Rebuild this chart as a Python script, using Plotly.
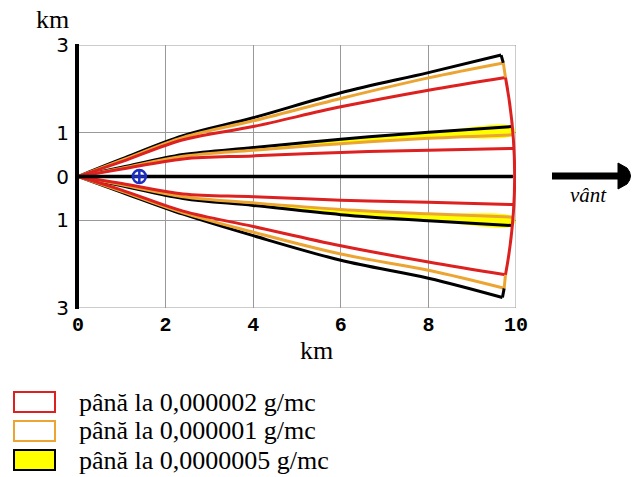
import plotly.graph_objects as go

# ---------------- data (km) ----------------
# upper half, outer edges
uo_black_x = [0, 1, 2.4, 4, 6, 8, 9.66]
uo_black_y = [0, 0.40, 0.93, 1.34, 1.91, 2.37, 2.77]
uo_orange_x = [0, 1, 2.4, 4, 6, 8, 9.71]
uo_orange_y = [0, 0.37, 0.89, 1.27, 1.78, 2.25, 2.59]
uo_red_x = [0, 1, 2.4, 4, 6, 8, 9.76]
uo_red_y = [0, 0.34, 0.84, 1.14, 1.59, 1.97, 2.26]
# upper half, inner edges
ui_black_x = [0, 1, 2.4, 4, 6, 8, 9.93]
ui_black_y = [0, 0.21, 0.50, 0.66, 0.85, 1.01, 1.14]
ui_orange_x = [0, 1, 2.4, 4, 6, 8, 9.95]
ui_orange_y = [0, 0.19, 0.46, 0.60, 0.75, 0.87, 0.95]
ui_red_x = [0, 1, 2.4, 4, 6, 8, 9.97]
ui_red_y = [0, 0.17, 0.40, 0.47, 0.55, 0.60, 0.64]
# lower half, outer edges
lo_black_x = [0, 1, 2.4, 4, 6, 8, 9.69]
lo_black_y = [0, -0.36, -0.86, -1.35, -1.91, -2.32, -2.76]
lo_orange_x = [0, 1, 2.4, 4, 6, 8, 9.73]
lo_orange_y = [0, -0.34, -0.83, -1.27, -1.77, -2.14, -2.55]
lo_red_x = [0, 1, 2.4, 4, 6, 8, 9.76]
lo_red_y = [0, -0.31, -0.79, -1.14, -1.58, -1.95, -2.24]
# lower half, inner edges
li_black_x = [0, 1, 2.4, 4, 6, 8, 9.93]
li_black_y = [0, -0.21, -0.50, -0.66, -0.87, -1.01, -1.12]
li_orange_x = [0, 1, 2.4, 4, 6, 8, 9.95]
li_orange_y = [0, -0.19, -0.46, -0.60, -0.75, -0.85, -0.93]
li_red_x = [0, 1, 2.4, 4, 6, 8, 9.97]
li_red_y = [0, -0.16, -0.40, -0.46, -0.54, -0.59, -0.64]
# short closing edges at the far end (black -> orange, orange -> red)
end_black_up_x = [9.66, 9.71]
end_black_up_y = [2.77, 2.59]
end_orange_up_x = [9.71, 9.76]
end_orange_up_y = [2.59, 2.26]
end_black_lo_x = [9.69, 9.73]
end_black_lo_y = [-2.76, -2.55]
end_orange_lo_x = [9.73, 9.76]
end_orange_lo_y = [-2.55, -2.24]
# axis of the plume and source
axis_x = [0, 9.93]
axis_y = [0, 0]
source_x = [1.4]
source_y = [0]
# red closing arc: start, control, end
arc_pts = [(9.76, 2.26), (10.18, 0.01), (9.76, -2.24)]

x_ticks = [0, 2, 4, 6, 8, 10]
y_ticks = [-3, -1, 0, 1, 3]
y_ticktext = ["3", "1", "0", "1", "3"]
legend_labels = ["până la 0,000002 g/mc", "până la 0,000001 g/mc", "până la 0,0000005 g/mc"]

RED = "#dd2020"
ORANGE = "#eca532"
YELLOW = "#ffff00"
BLACK = "#000000"
BLUE = "#1c2fc0"

W, H = 632, 477
L, R, T, B = 78, 516, 45, 308


def px(xp):
    return (xp - L) / (R - L)


def py(yp):
    return (B - yp) / (B - T)


fig = go.Figure()

# yellow bands between the black and orange inner edges
for bx, by, ox, oy in [(ui_black_x, ui_black_y, ui_orange_x, ui_orange_y),
                       (li_black_x, li_black_y, li_orange_x, li_orange_y)]:
    fig.add_trace(go.Scatter(x=bx + ox[::-1], y=by + oy[::-1], fill="toself",
                             fillcolor=YELLOW, line=dict(width=0, shape="spline",
                                                         smoothing=1.0),
                             mode="lines", hoverinfo="skip", showlegend=False))

curves = [
    (uo_black_x, uo_black_y, BLACK), (ui_black_x, ui_black_y, BLACK),
    (lo_black_x, lo_black_y, BLACK), (li_black_x, li_black_y, BLACK),
    (uo_orange_x, uo_orange_y, ORANGE), (ui_orange_x, ui_orange_y, ORANGE),
    (lo_orange_x, lo_orange_y, ORANGE), (li_orange_x, li_orange_y, ORANGE),
    (uo_red_x, uo_red_y, RED), (ui_red_x, ui_red_y, RED),
    (lo_red_x, lo_red_y, RED), (li_red_x, li_red_y, RED),
]
for xs, ys, col in curves:
    fig.add_trace(go.Scatter(x=xs, y=ys, mode="lines",
                             line=dict(color=col, width=3, shape="spline",
                                       smoothing=1.0),
                             showlegend=False))
for xs, ys, col in [(end_black_up_x, end_black_up_y, BLACK),
                    (end_black_lo_x, end_black_lo_y, BLACK),
                    (end_orange_up_x, end_orange_up_y, ORANGE),
                    (end_orange_lo_x, end_orange_lo_y, ORANGE)]:
    fig.add_trace(go.Scatter(x=xs, y=ys, mode="lines",
                             line=dict(color=col, width=3), showlegend=False))

fig.add_trace(go.Scatter(x=axis_x, y=axis_y, mode="lines",
                         line=dict(color=BLACK, width=3.5), showlegend=False))
fig.add_trace(go.Scatter(x=source_x, y=source_y, mode="markers",
                         marker=dict(symbol="circle-cross-open", size=13,
                                     color=BLUE, line=dict(color=BLUE, width=2.5)),
                         showlegend=False))

shapes = []
# plot frame (gray)
shapes.append(dict(type="rect", xref="x", yref="y", x0=0, x1=10, y0=-3, y1=3,
                   line=dict(color="#999999", width=1), layer="below"))
# red arc
(p0, c, p1) = arc_pts
shapes.append(dict(type="path", xref="x", yref="y",
                   path=f"M {p0[0]},{p0[1]} Q {c[0]},{c[1]} {p1[0]},{p1[1]}",
                   line=dict(color=RED, width=3)))
# thick black y-axis
shapes.append(dict(type="line", xref="paper", yref="paper", x0=px(77), x1=px(77),
                   y0=py(T - 1), y1=py(B + 1), line=dict(color=BLACK, width=4)))
# wind arrow
shapes.append(dict(type="line", xref="paper", yref="paper", x0=px(552), x1=px(622),
                   y0=py(176), y1=py(176), line=dict(color=BLACK, width=7)))
shapes.append(dict(type="path", xref="paper", yref="paper",
                   path=(f"M {px(618)},{py(163)} L {px(627)},{py(168)} "
                         f"Q {px(634)},{py(176)} {px(627)},{py(184)} "
                         f"L {px(618)},{py(189)} Z"),
                   fillcolor=BLACK, line=dict(color=BLACK, width=1)))
# legend boxes
box_tops = [392, 421, 450]
box_fill = ["white", "white", YELLOW]
box_line = [RED, ORANGE, BLACK]
for top, fc, lc in zip(box_tops, box_fill, box_line):
    shapes.append(dict(type="rect", xref="paper", yref="paper",
                       x0=px(14), x1=px(55), y0=py(top), y1=py(top + 20),
                       fillcolor=fc, line=dict(color=lc, width=2)))

annotations = [
    dict(text="km", x=px(52), y=py(19), xref="paper", yref="paper", showarrow=False,
         font=dict(family="Liberation Serif", size=26, color="black"),
         xanchor="center", yanchor="middle"),
    dict(text="km", x=px(316), y=py(350), xref="paper", yref="paper", showarrow=False,
         font=dict(family="Liberation Serif", size=26, color="black"),
         xanchor="center", yanchor="middle"),
    dict(text="<i>vânt</i>", x=px(588), y=py(195), xref="paper", yref="paper",
         showarrow=False, font=dict(family="Liberation Serif", size=21, color="black"),
         xanchor="center", yanchor="middle"),
]
for top, lab in zip(box_tops, legend_labels):
    annotations.append(dict(text=lab, x=px(77), y=py(top + 10), xref="paper",
                            yref="paper", showarrow=False, xanchor="left",
                            yanchor="middle",
                            font=dict(family="Liberation Serif", size=26,
                                      color="black")))

fig.update_layout(
    width=W, height=H,
    margin=dict(l=L, r=W - R, t=T, b=H - B, pad=0),
    paper_bgcolor="white", plot_bgcolor="white",
    shapes=shapes, annotations=annotations,
    xaxis=dict(range=[0, 10], tickvals=x_ticks,
               ticktext=[f"<b>{v}</b>" for v in x_ticks],
               showgrid=True, gridcolor="#999999", gridwidth=1, zeroline=False,
               showline=False, ticks="", fixedrange=True,
               tickfont=dict(family="Liberation Mono", size=20, color="black"),
               ticklabelstandoff=2),
    yaxis=dict(range=[-3, 3], tickvals=y_ticks, ticktext=y_ticktext,
               showgrid=True, gridcolor="#999999", gridwidth=1, zeroline=False,
               showline=False, ticks="", fixedrange=True,
               tickfont=dict(family="DejaVu Sans", size=20, color="black"),
               ticklabelstandoff=8),
    showlegend=False,
)

fig.write_html("out.html", config={"displayModeBar": False},
               post_script="document.body.style.margin='0';"
                           "document.body.style.overflow='hidden';")
